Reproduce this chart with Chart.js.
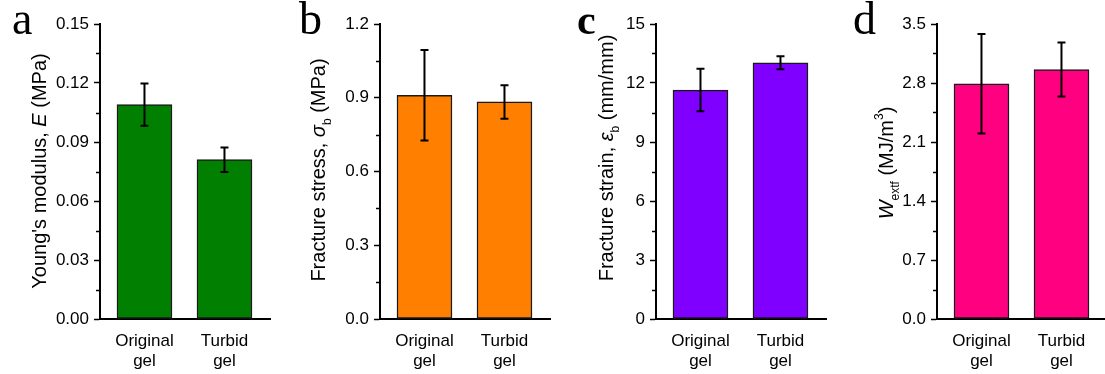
<!DOCTYPE html>
<html>
<head>
<meta charset="UTF-8">
<title>Gel mechanics</title>
<style type="text/css">
	body{ margin:0; padding:0; background:#fff; }
	#wrap{ position:relative; width:1105px; height:374px; overflow:hidden; }
	#wrap canvas{ position:absolute; top:0; }
</style>
</head>
<body>
<div id="wrap">
	<canvas id="chartA" width="280" height="374" style="left:0px"></canvas>
	<canvas id="chartB" width="280" height="374" style="left:280px"></canvas>
	<canvas id="chartC" width="280" height="374" style="left:556px"></canvas>
	<canvas id="chartD" width="280" height="374" style="left:837px"></canvas>
</div>
<script src="https://cdn.jsdelivr.net/npm/chart.js@4"></script>
<script>
// sample groups (two-line tick labels)
var groups = [['Original', 'gel'], ['Turbid', 'gel']];

// a: Young's modulus (MPa)
var modulus = [0.109, 0.081];
var modulusErr = [0.0107, 0.0062];
var modulusTicks = [0, 0.03, 0.06, 0.09, 0.12, 0.15];

// b: fracture stress (MPa)
var stress = [0.910, 0.883];
var stressErr = [0.184, 0.068];
var stressTicks = [0, 0.3, 0.6, 0.9, 1.2];

// c: fracture strain (mm/mm)
var strain = [11.64, 13.03];
var strainErr = [1.08, 0.33];
var strainTicks = [0, 3, 6, 9, 12, 15];

// d: work of extension to fracture (MJ/m3)
var work = [2.79, 2.96];
var workErr = [0.59, 0.32];
var workTicks = [0, 0.7, 1.4, 2.1, 2.8, 3.5];

var SANS = "'Liberation Sans', Arial, sans-serif";
var SERIF = "'Liberation Serif', 'Times New Roman', serif";

Chart.defaults.font.family = SANS;
Chart.defaults.color = '#000';

function partFont(p, size){
	var s = (p.sub || p.sup) ? Math.round(size * 0.62) : size;
	return (p.italic ? 'italic ' : '') + s + 'px ' + SANS;
}

// rotated axis title made of styled pieces (italic symbols, sub/superscripts)
function drawRichTitle(ctx, parts, cx, cy, size){
	ctx.save();
	var total = 0;
	parts.forEach(function(p){
		ctx.font = partFont(p, size);
		p.w = ctx.measureText(p.t).width;
		total += p.w;
	});
	ctx.translate(cx, cy);
	ctx.rotate(-Math.PI / 2);
	ctx.fillStyle = '#000';
	ctx.textBaseline = 'alphabetic';
	var x = -total / 2;
	parts.forEach(function(p){
		ctx.font = partFont(p, size);
		var dy = p.sub ? size * 0.28 : (p.sup ? -size * 0.5 : 0);
		ctx.fillText(p.t, x, dy);
		x += p.w;
	});
	ctx.restore();
}

var panelDecor = {
	id: 'panelDecor',
	afterDatasetsDraw: function(chart, args, opts){
		var ctx = chart.ctx;
		var ys = chart.scales.y;
		var meta = chart.getDatasetMeta(0);
		var vals = chart.data.datasets[0].data;

		// error bars
		ctx.save();
		ctx.strokeStyle = '#000';
		ctx.lineWidth = 2;
		meta.data.forEach(function(bar, i){
			var v = vals[i].y, e = opts.err[i];
			var top = ys.getPixelForValue(v + e);
			var bot = ys.getPixelForValue(v - e);
			ctx.beginPath();
			ctx.moveTo(bar.x, top); ctx.lineTo(bar.x, bot);
			ctx.moveTo(bar.x - 4, top); ctx.lineTo(bar.x + 4, top);
			ctx.moveTo(bar.x - 4, bot); ctx.lineTo(bar.x + 4, bot);
			ctx.stroke();
		});

		// minor ticks halfway between labelled ones
		ctx.lineWidth = 1.5;
		var ax = chart.chartArea.left;
		for(var k = 0; k < opts.ticks.length - 1; k++){
			var py = Math.round(ys.getPixelForValue((opts.ticks[k] + opts.ticks[k + 1]) / 2)) + 0.5;
			ctx.beginPath();
			ctx.moveTo(ax - 4, py); ctx.lineTo(ax, py);
			ctx.stroke();
		}
		ctx.restore();

		drawRichTitle(ctx, opts.title, opts.titleX, opts.titleY, 20);

		// panel letter
		ctx.save();
		ctx.fillStyle = '#000';
		ctx.textBaseline = 'alphabetic';
		ctx.font = (opts.bold ? 'bold ' : '') + opts.letterSize + 'px ' + SERIF;
		ctx.fillText(opts.letter, opts.letterX, 34);
		ctx.restore();
	}
};

function makePanel(id, values, errs, ticks, decimals, color, decor){
	decor.err = errs;
	decor.ticks = ticks;
	var points = values.map(function(v, i){ return {x: i + 1, y: v}; });
	return new Chart(document.getElementById(id), {
		type: 'bar',
		data: {
			datasets: [{
				data: points,
				backgroundColor: color,
				borderColor: '#1a1a1a',
				borderWidth: 1.5,
				borderSkipped: false,
				barThickness: 55
			}]
		},
		options: {
			responsive: false,
			animation: false,
			events: [],
			layout: { padding: { top: 24, right: 10, left: 0, bottom: 0 } },
			plugins: {
				legend: { display: false },
				tooltip: { enabled: false },
				panelDecor: decor
			},
			scales: {
				x: {
					type: 'linear',
					offset: false,
					min: 0.444,
					max: 2.569,
					afterBuildTicks: function(scale){
						scale.ticks = groups.map(function(g, i){ return {value: i + 1}; });
					},
					afterFit: function(scale){ scale.height = 55; },
					grid: { display: false, offset: false },
					border: { display: true, color: '#000', width: 2 },
					ticks: {
						autoSkip: false,
						maxRotation: 0,
						padding: 4,
						font: { size: 17, lineHeight: 1.2 },
						callback: function(v){ return groups[v - 1]; }
					}
				},
				y: {
					min: ticks[0],
					max: ticks[ticks.length - 1],
					afterBuildTicks: function(scale){
						scale.ticks = ticks.map(function(t){ return {value: t}; });
					},
					afterFit: function(scale){ scale.width = 100; },
					grid: { drawOnChartArea: false, tickLength: 6, tickWidth: 1.5, tickColor: '#000' },
					border: { display: true, color: '#000', width: 2 },
					ticks: {
						padding: 5,
						font: { size: 17 },
						callback: function(v){ return Number(v).toFixed(decimals); }
					}
				}
			}
		},
		plugins: [panelDecor]
	});
}

makePanel('chartA', modulus, modulusErr, modulusTicks, 2, '#007f00', {
	letter: 'a', letterX: 12, letterSize: 46, titleX: 46, titleY: 171,
	title: [{t: "Young's modulus, "}, {t: 'E', italic: true}, {t: ' (MPa)'}]
});
makePanel('chartB', stress, stressErr, stressTicks, 1, '#ff8000', {
	letter: 'b', letterX: 19, letterSize: 46, titleX: 45, titleY: 170,
	title: [{t: 'Fracture stress, '}, {t: '\u03c3', italic: true}, {t: 'b', sub: true}, {t: ' (MPa)'}]
});
makePanel('chartC', strain, strainErr, strainTicks, 0, '#7f00ff', {
	letter: 'c', letterX: 21, letterSize: 42, bold: true, titleX: 57, titleY: 158,
	title: [{t: 'Fracture strain, '}, {t: '\u03b5', italic: true}, {t: 'b', sub: true}, {t: ' (mm/mm)'}]
});
makePanel('chartD', work, workErr, workTicks, 1, '#ff0080', {
	letter: 'd', letterX: 16, letterSize: 46, titleX: 56, titleY: 163,
	title: [{t: 'W', italic: true}, {t: 'extf', sub: true}, {t: ' (MJ/m'}, {t: '3', sup: true}, {t: ')'}]
});
</script>
</body>
</html>
